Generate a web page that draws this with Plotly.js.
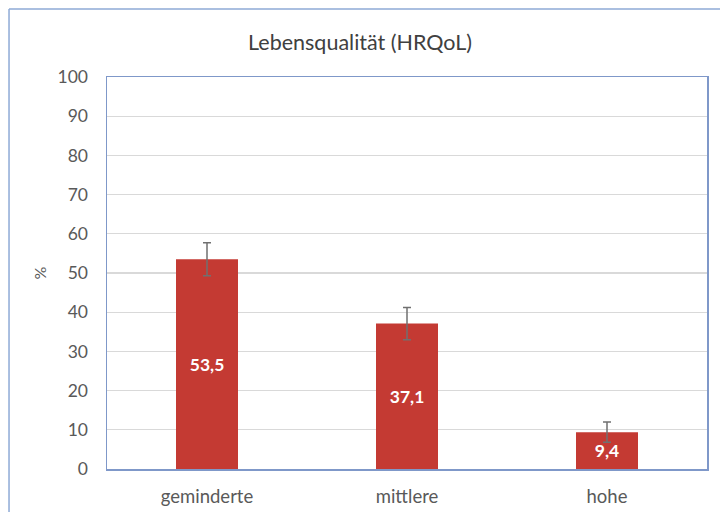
<!DOCTYPE html>
<html>
<head>
<meta charset="utf-8">
<script src="https://cdn.plot.ly/plotly-3.0.1.min.js"></script>
<style>html,body{margin:0;padding:0;background:#fff;}#chart{width:720px;height:512px;}</style>
</head>
<body>
<div id="chart"></div>
<script>
const categories = ["geminderte", "mittlere", "hohe"];
const values = [53.5, 37.1, 9.4];
const errors = [4.2, 4.1, 2.6];
const yTicks = [0, 10, 20, 30, 40, 50, 60, 70, 80, 90, 100];

const labels = values.map(v => v.toFixed(1).replace('.', ','));
const FONT = "Lato, 'Open Sans', sans-serif";

const trace = {
  type: 'bar',
  x: categories,
  y: values,
  width: 0.31,
  marker: {color: '#c43a33', line: {width: 0}},
  error_y: {type: 'data', array: errors, visible: true, color: '#707070', thickness: 1.5, width: 4},
  text: labels,
  textposition: 'inside',
  insidetextanchor: 'middle',
  textangle: 0,
  textfont: {family: FONT, size: 17.5, color: '#ffffff', weight: 'bold'},
  hoverinfo: 'none'
};

const frameColor = '#8eaad6';
const layout = {
  width: 720, height: 512,
  margin: {l: 107, r: 13, t: 77, b: 43},
  paper_bgcolor: '#ffffff', plot_bgcolor: '#ffffff',
  font: {family: FONT, color: '#595959', size: 17},
  title: {text: 'Lebensqualität (HRQoL)', x: 0.5, xanchor: 'center', y: 0.918, yanchor: 'middle', font: {family: FONT, size: 21.5, color: '#404040'}},
  showlegend: false,
  bargap: 0.69,
  xaxis: {
    type: 'category',
    showline: true, mirror: true, linecolor: '#7f98c9', linewidth: 1.5,
    showgrid: false, zeroline: false,
    ticks: 'outside', ticklen: 10, tickcolor: 'rgba(0,0,0,0)',
    tickfont: {family: FONT, size: 18.5, color: '#595959'}
  },
  yaxis: {
    range: [0, 100],
    tickvals: yTicks,
    showline: true, mirror: true, linecolor: '#7f98c9', linewidth: 1.5,
    showgrid: true, gridcolor: '#d9d9d9', gridwidth: 1.2,
    zeroline: false,
    ticks: 'outside', ticklen: 14, tickcolor: 'rgba(0,0,0,0)',
    tickfont: {family: FONT, size: 17.5, color: '#595959'},
    title: {text: '%', standoff: 7, font: {family: FONT, size: 16, color: '#595959'}}
  },
  shapes: [
    {type: 'line', xref: 'paper', yref: 'paper', x0: -0.1633, x1: -0.1633, y0: 1.1735, y1: -0.2, line: {color: frameColor, width: 1.5}},
    {type: 'line', xref: 'paper', yref: 'paper', x0: -0.1633, x1: 1.1, y0: 1.1735, y1: 1.1735, line: {color: frameColor, width: 1.5}}
  ]
};

Plotly.newPlot('chart', [trace], layout, {displayModeBar: false, staticPlot: true});
</script>
</body>
</html>
